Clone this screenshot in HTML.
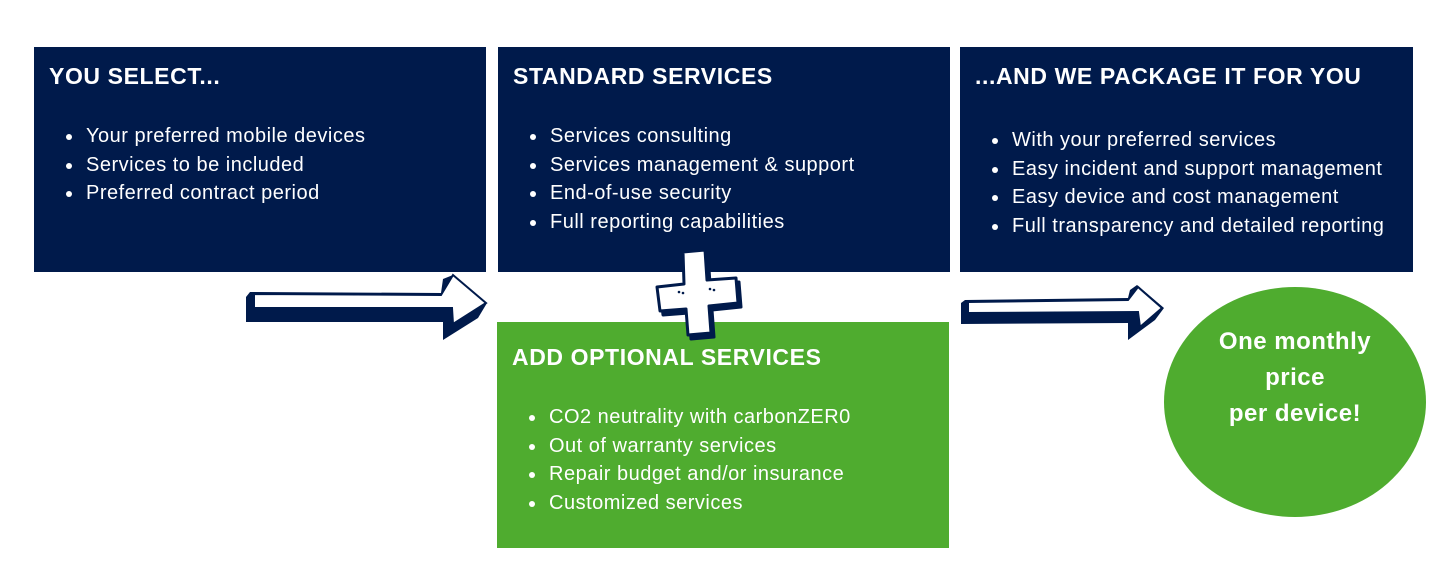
<!DOCTYPE html>
<html><head><style>
body{margin:0;width:1440px;height:576px;background:#fff;position:relative;overflow:hidden;font-family:"Liberation Sans",sans-serif;color:#fff}
.b{position:absolute;background:#001a4b;box-sizing:border-box;padding:14px 0 0 15px}
.g{background:#4fac2f}
h2{margin:0;font-size:23px;font-weight:bold;letter-spacing:0.6px;line-height:30px}
ul{margin:31px 0 0 0;padding-left:35px;font-size:20px;letter-spacing:0.5px;line-height:28.5px}
li{padding-left:2px}
.c{position:absolute;left:1164px;top:287px;width:262px;height:230px;border-radius:50%;background:#4fac2f;text-align:center;font-weight:bold;font-size:24px;line-height:36px;letter-spacing:0.5px;box-sizing:border-box;padding-top:37px}
</style></head><body>
<div class="b" style="left:34px;top:47px;width:452px;height:225px"><h2>YOU SELECT...</h2><ul><li>Your preferred mobile devices</li><li>Services to be included</li><li>Preferred contract period</li></ul></div>
<div class="b" style="left:498px;top:47px;width:452px;height:225px"><h2>STANDARD SERVICES</h2><ul><li>Services consulting</li><li>Services management &amp; support</li><li>End-of-use security</li><li>Full reporting capabilities</li></ul></div>
<div class="b" style="left:960px;top:47px;width:453px;height:225px"><h2>...AND WE PACKAGE IT FOR YOU</h2><ul style="margin-top:35px"><li>With your preferred services</li><li>Easy incident and support management</li><li>Easy device and cost management</li><li>Full transparency and detailed reporting</li></ul></div>
<div class="b g" style="left:497px;top:322px;width:452px;height:226px;padding-top:20px"><h2>ADD OPTIONAL SERVICES</h2><ul><li>CO2 neutrality with carbonZER0</li><li>Out of warranty services</li><li>Repair budget and/or insurance</li><li>Customized services</li></ul></div>
<div class="c">One monthly<br>price<br>per device!</div>
<svg width="1440" height="576" style="position:absolute;left:0;top:0">
<polygon points="250,292 441,293 443,279 453,275 487,303 478,318 443,340 443,322 246,322 246,297" fill="#001a4b"/>
<polygon points="254,294 441,295 453,275 486,303 453,324 452,308 254,308" fill="#fff" stroke="#001a4b" stroke-width="2"/>
<polygon points="965,300 1128,298 1130,290 1137,285 1164,308 1155,320 1128,340 1128,323 961,324 961,303" fill="#001a4b"/>
<polygon points="968,302 1128,300 1138,287 1162,308 1140,327 1138,312 968,313" fill="#fff" stroke="#001a4b" stroke-width="2"/>
<g stroke="#001a4b" stroke-width="3" stroke-linejoin="round">
<polygon points="686,256 708,254 710,284 739,282 741,307 712,310 714,337 691,339 689,313 663,315 660,291 687,288" fill="#001a4b"/>
<polygon points="683,252 705,250 707,280 736,278 738,303 709,306 711,333 688,335 686,309 660,311 657,287 684,284" fill="#fff"/>
</g>
<g fill="#001a4b"><circle cx="679" cy="292" r="1.3"/><circle cx="683" cy="293" r="1.3"/><circle cx="710" cy="289" r="1.3"/><circle cx="714" cy="290" r="1.3"/></g>
</svg>
</body></html>
